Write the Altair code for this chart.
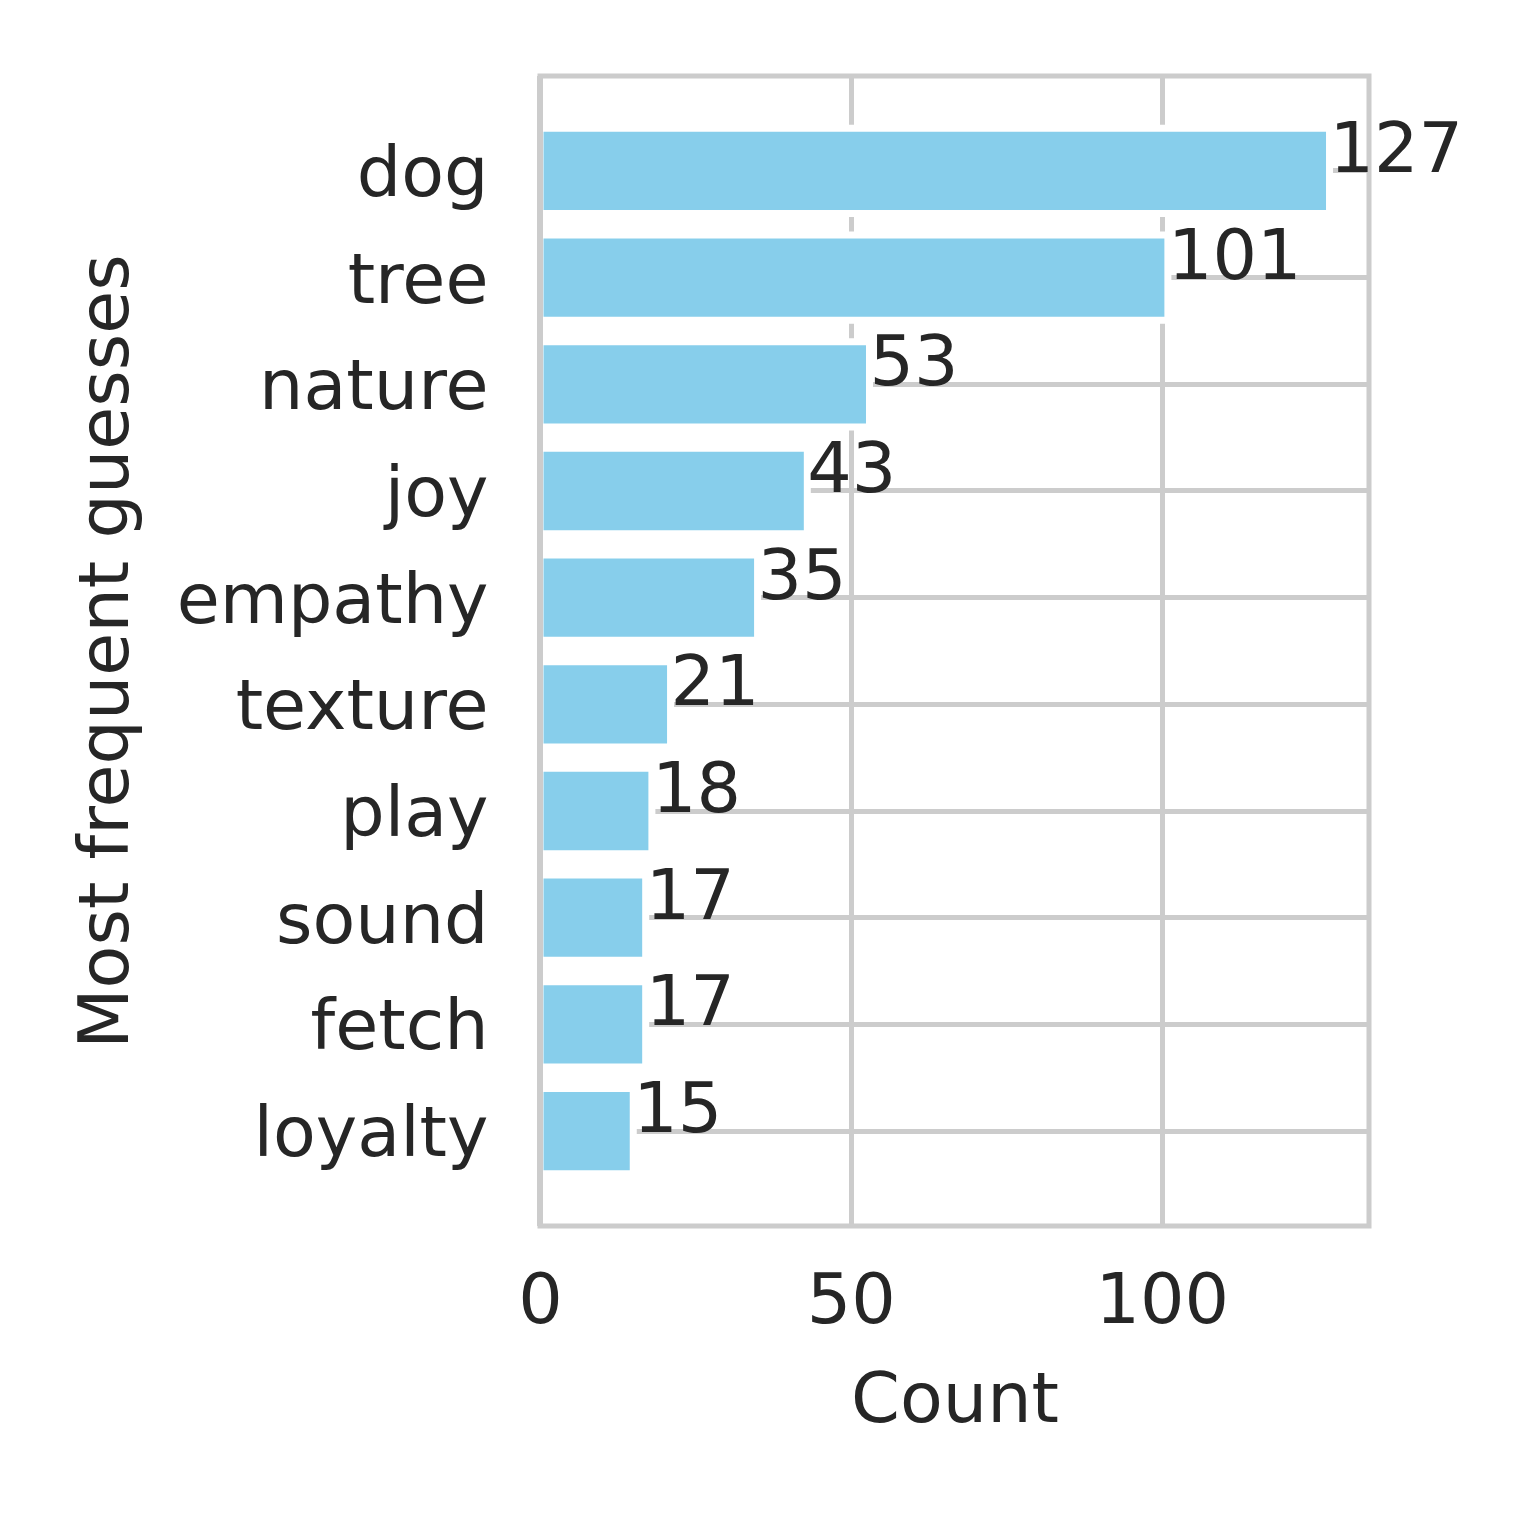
import altair as alt
import pandas as pd

guesses = ["dog", "tree", "nature", "joy", "empathy", "texture", "play", "sound", "fetch", "loyalty"]
counts = [127, 101, 53, 43, 35, 21, 18, 17, 17, 15]

df = pd.DataFrame({"guess": guesses, "count": counts})

FONT = "DejaVu Sans"
TXT = "#262626"
GRID = "#cccccc"
FS = 70

y_enc = alt.Y(
    "guess:N",
    sort=guesses,
    title="Most frequent guesses",
    scale=alt.Scale(paddingInner=0.2, paddingOuter=0.49),
    axis=alt.Axis(
        grid=True,
        bandPosition=0.5,
        gridColor=GRID,
        gridWidth=5,
        ticks=False,
        domain=False,
        labelFont=FONT,
        labelFontSize=FS,
        labelColor=TXT,
        labelPadding=52,
        labelOffset=4,
        labelLimit=600,
        titleFont=FONT,
        titleFontSize=FS,
        titleFontWeight="normal",
        titleColor=TXT,
        titleBaseline="bottom",
        titleAngle=270,
        titleX=-398,
        titleY=575,
    ),
)

x_enc = alt.X(
    "count:Q",
    title="Count",
    scale=alt.Scale(domain=[0, 133.35], nice=False, zero=True),
    axis=alt.Axis(
        values=[0, 50, 100],
        grid=True,
        gridColor=GRID,
        gridWidth=5,
        ticks=False,
        domain=False,
        labelFont=FONT,
        labelFontSize=FS,
        labelColor=TXT,
        labelPadding=41,
        labelFlush=False,
        titleFont=FONT,
        titleFontSize=FS,
        titleFontWeight="normal",
        titleColor=TXT,
        titlePadding=30,
    ),
)

bars = alt.Chart(df).mark_bar(color="#87CEEB", stroke="white", strokeWidth=7).encode(
    x=x_enc, y=y_enc
)

labels = alt.Chart(df).mark_text(
    align="left", baseline="alphabetic", dx=0, dy=1, font=FONT, fontSize=FS, color=TXT
).encode(
    x=alt.X("count:Q"),
    y=alt.Y("guess:N", sort=guesses),
    text=alt.Text("count:Q"),
)

left_frame = alt.Chart(df).mark_rule(color=GRID, strokeWidth=5).encode(
    x=alt.datum(0)
)

chart = (
    alt.layer(bars, left_frame, labels)
    .properties(width=829, height=1150, background="white",
                padding={"left": 63, "top": 65, "right": 0, "bottom": 20})
    .configure_view(stroke=GRID, strokeWidth=5)
)

chart.save("out.html", embed_options={"renderer": "svg", "actions": False})
